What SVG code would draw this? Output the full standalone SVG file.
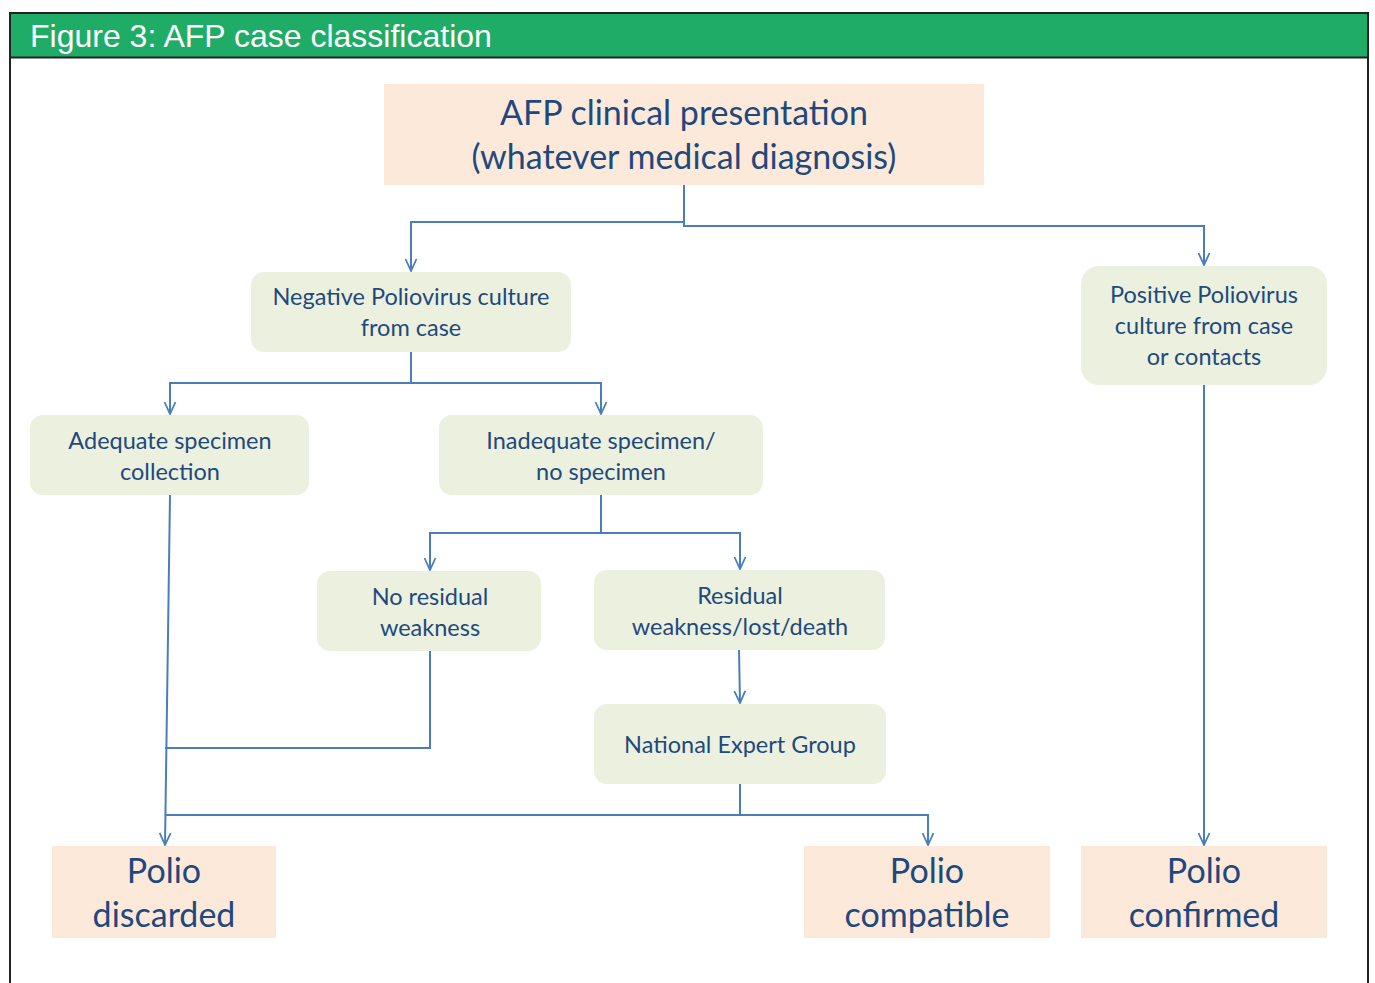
<svg xmlns="http://www.w3.org/2000/svg" width="1375" height="983" viewBox="0 0 1375 983">
  <style>
    .peach { fill: #FDE9D9; }
    .sage { fill: #EBF1DE; }
    .lbl { font-family: Lato, "Open Sans", sans-serif; fill: #1F497D; text-anchor: middle; }
    .sm { font-size: 23.5px; }
    .lg { font-size: 34px; }
    .wire { fill: none; stroke: #4A7EBB; stroke-width: 2; }
  </style>
  <defs>
    <!-- open V arrowhead drawn along +x so orient="auto" turns it with the line -->
    <marker id="arrow" viewBox="0 0 14 14" refX="13" refY="7" markerWidth="14" markerHeight="14" markerUnits="userSpaceOnUse" orient="auto">
      <path d="M1 1.5 L13 7 L1 12.5" fill="none" stroke="#4A7EBB" stroke-width="1.8"/>
    </marker>
  </defs>

  <rect width="1375" height="983" fill="#FFFFFF"/>

  <!-- frame and title bar -->
  <g id="frame">
    <rect x="10" y="13" width="1358" height="44" fill="#1FAC67"/>
    <path d="M10 983 V13 H1368 V983" fill="none" stroke="#222222" stroke-width="2"/>
    <line x1="10" y1="57.5" x2="1368" y2="57.5" stroke="#222222" stroke-width="2"/>
    <text x="30" y="47" font-family="'Liberation Sans', Arial, sans-serif" font-size="32" fill="#FFFFFF">Figure 3: AFP case classification</text>
  </g>

  <!-- connectors -->
  <g id="connectors" class="wire">
    <path d="M684 185 V222 H411 V271" marker-end="url(#arrow)"/>
    <path d="M684 222 V226 H1204 V265" marker-end="url(#arrow)"/>
    <path d="M411 352 V383 H170 V414" marker-end="url(#arrow)"/>
    <path d="M411 383 H601 V414" marker-end="url(#arrow)"/>
    <path d="M601 495 V533 H430 V570" marker-end="url(#arrow)"/>
    <path d="M601 533 H740 V569" marker-end="url(#arrow)"/>
    <path d="M739 650 L740 703" marker-end="url(#arrow)"/>
    <path d="M170 495 L165 845" marker-end="url(#arrow)"/>
    <path d="M430 651 V748 H165"/>
    <path d="M740 784 V815 H165"/>
    <path d="M740 815 H928 V845" marker-end="url(#arrow)"/>
    <path d="M1204 385 V845" marker-end="url(#arrow)"/>
  </g>

  <g id="afp-presentation">
    <rect class="peach" x="384" y="84" width="600" height="101"/>
    <text class="lbl lg" x="684" y="125">AFP clinical presentation</text>
    <text class="lbl lg" x="684" y="169">(whatever medical diagnosis)</text>
  </g>

  <g id="negative-culture">
    <rect class="sage" x="251" y="272" width="320" height="80" rx="13"/>
    <text class="lbl sm" x="411" y="305">Negative Poliovirus culture</text>
    <text class="lbl sm" x="411" y="336">from case</text>
  </g>

  <g id="positive-culture">
    <rect class="sage" x="1081" y="266" width="246" height="119" rx="18"/>
    <text class="lbl sm" x="1204" y="303">Positive Poliovirus</text>
    <text class="lbl sm" x="1204" y="334">culture from case</text>
    <text class="lbl sm" x="1204" y="365">or contacts</text>
  </g>

  <g id="adequate-specimen">
    <rect class="sage" x="30" y="415" width="279" height="80" rx="13"/>
    <text class="lbl sm" x="170" y="449">Adequate specimen</text>
    <text class="lbl sm" x="170" y="480">collection</text>
  </g>

  <g id="inadequate-specimen">
    <rect class="sage" x="439" y="415" width="324" height="80" rx="13"/>
    <text class="lbl sm" x="601" y="449">Inadequate specimen/</text>
    <text class="lbl sm" x="601" y="480">no specimen</text>
  </g>

  <g id="no-residual-weakness">
    <rect class="sage" x="317" y="571" width="224" height="80" rx="13"/>
    <text class="lbl sm" x="430" y="605">No residual</text>
    <text class="lbl sm" x="430" y="636">weakness</text>
  </g>

  <g id="residual-weakness">
    <rect class="sage" x="594" y="570" width="291" height="80" rx="13"/>
    <text class="lbl sm" x="740" y="604">Residual</text>
    <text class="lbl sm" x="740" y="635">weakness/lost/death</text>
  </g>

  <g id="national-expert-group">
    <rect class="sage" x="594" y="704" width="292" height="80" rx="13"/>
    <text class="lbl sm" x="740" y="753">National Expert Group</text>
  </g>

  <g id="polio-discarded">
    <rect class="peach" x="52" y="846" width="224" height="92"/>
    <text class="lbl lg" x="164" y="883">Polio</text>
    <text class="lbl lg" x="164" y="927">discarded</text>
  </g>

  <g id="polio-compatible">
    <rect class="peach" x="804" y="846" width="246" height="92"/>
    <text class="lbl lg" x="927" y="883">Polio</text>
    <text class="lbl lg" x="927" y="927">compatible</text>
  </g>

  <g id="polio-confirmed">
    <rect class="peach" x="1081" y="846" width="246" height="92"/>
    <text class="lbl lg" x="1204" y="883">Polio</text>
    <text class="lbl lg" x="1204" y="927">confirmed</text>
  </g>
</svg>
